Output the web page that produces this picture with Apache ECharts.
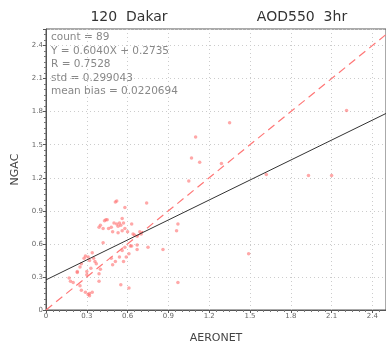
<!DOCTYPE html>
<html>
<head>
<meta charset="utf-8">
<script src="https://cdn.jsdelivr.net/npm/echarts@6/dist/echarts.min.js"></script>
<style>
  html, body { margin: 0; padding: 0; background: #fff; }
  #chart { width: 386px; height: 349px; }
</style>
</head>
<body>
<div id="chart"></div>
<script>
// AERONET (x) vs NGAC (y) AOD550
var points = [
  [2.21, 1.81], [1.35, 1.70], [1.10, 1.57], [1.07, 1.38], [1.13, 1.34],
  [1.29, 1.33], [1.05, 1.17], [1.62, 1.23], [1.93, 1.22], [2.10, 1.22],
  [0.97, 0.78], [0.96, 0.72], [0.86, 0.55], [1.49, 0.51], [0.97, 0.25],
  [0.51, 0.98], [0.52, 0.99], [0.58, 0.93],
  [0.44, 0.82], [0.43, 0.81], [0.45, 0.82],
  [0.40, 0.77], [0.39, 0.75], [0.42, 0.74],
  [0.48, 0.75], [0.46, 0.74],
  [0.50, 0.79], [0.52, 0.78], [0.54, 0.79], [0.53, 0.76], [0.55, 0.77], [0.57, 0.79], [0.56, 0.83],
  [0.49, 0.71], [0.53, 0.70], [0.56, 0.72], [0.58, 0.74], [0.60, 0.71],
  [0.64, 0.69], [0.65, 0.68],
  [0.42, 0.61], [0.34, 0.52],
  [0.29, 0.49], [0.31, 0.48], [0.28, 0.47], [0.32, 0.45],
  [0.35, 0.47], [0.36, 0.44], [0.37, 0.42],
  [0.25, 0.39], [0.23, 0.35], [0.23, 0.34], [0.26, 0.42],
  [0.30, 0.35], [0.30, 0.32],
  [0.33, 0.38], [0.39, 0.33], [0.40, 0.37],
  [0.17, 0.29], [0.18, 0.26], [0.20, 0.25],
  [0.25, 0.22], [0.26, 0.18],
  [0.29, 0.16], [0.32, 0.15], [0.34, 0.16], [0.31, 0.14], [0.32, 0.13],
  [0.39, 0.26],
  [0.49, 0.41], [0.51, 0.44], [0.48, 0.47], [0.54, 0.48], [0.57, 0.44], [0.59, 0.48], [0.61, 0.51],
  [0.55, 0.23], [0.61, 0.20],
  [0.56, 0.54], [0.58, 0.57], [0.62, 0.58],
  [0.74, 0.97], [0.63, 0.78], [0.69, 0.71], [0.70, 0.69], [0.67, 0.67],
  [0.63, 0.58], [0.67, 0.59], [0.67, 0.55], [0.75, 0.57]
];
var fitLine = [[0, 0.2735], [2.5, 1.7835]];   // Y = 0.6040X + 0.2735
var oneToOne = [[0, 0], [2.5, 2.5]];
var statLines = [
  'count = 89',
  'Y = 0.6040X + 0.2735',
  'R = 0.7528',
  'std = 0.299043',
  'mean bias = 0.0220694'
];
var tickStep = 0.3;

var chart = echarts.init(document.getElementById('chart'));

var axisCommon = {
  type: 'value',
  min: 0,
  interval: tickStep,
  axisLine: { show: true, lineStyle: { color: '#555', width: 1 } },
  axisTick: { show: true, length: 3, inside: false, lineStyle: { color: '#555' } },
  minorTick: { show: true, splitNumber: 6, length: 2, lineStyle: { color: '#777' } },
  axisLabel: {
    fontSize: 7, color: '#666', fontFamily: 'DejaVu Sans', margin: 3,
    showMaxLabel: false,
    formatter: function (v) { return v === 0 ? '0' : (+v.toFixed(1)).toString(); }
  },
  splitLine: { show: true, lineStyle: { color: '#ccc', type: [1, 3], width: 1 } },
  nameTextStyle: { fontSize: 11, color: '#444', fontFamily: 'DejaVu Sans' }
};

var option = {
  animation: false,
  backgroundColor: '#fff',
  grid: {
    left: 46, top: 29, width: 344, height: 291,
    show: true, borderColor: '#555', borderWidth: 1
  },
  title: [
    { text: '120  Dakar', left: 124, top: 5, textAlign: 'center',
      textStyle: { fontSize: 14, fontWeight: 'normal', color: '#333', fontFamily: 'DejaVu Sans' } },
    { text: 'AOD550  3hr', left: 297, top: 5, textAlign: 'center',
      textStyle: { fontSize: 14, fontWeight: 'normal', color: '#333', fontFamily: 'DejaVu Sans' } }
  ],
  xAxis: Object.assign({}, axisCommon, {
    max: 2.5,
    name: 'AERONET', nameLocation: 'middle', nameGap: 23
  }),
  yAxis: Object.assign({}, axisCommon, {
    max: 2.55,
    name: 'NGAC', nameLocation: 'middle', nameGap: 19
  }),
  graphic: [{
    type: 'text',
    left: 51, top: 31,
    style: {
      text: statLines.join('\n'),
      fontSize: 10.5, lineHeight: 13.5,
      fill: '#888', fontFamily: 'DejaVu Sans'
    }
  }],
  series: [
    {
      type: 'line', data: oneToOne, symbol: 'none', silent: true,
      lineStyle: { color: '#f77', width: 1.2, type: [8, 5] }
    },
    {
      type: 'line', data: fitLine, symbol: 'none', silent: true,
      lineStyle: { color: '#333', width: 1 }
    },
    {
      type: 'scatter', data: points, symbol: 'circle', symbolSize: 3.5,
      itemStyle: { color: 'rgba(255,110,110,0.75)' }
    }
  ]
};

chart.setOption(option);
</script>
</body>
</html>
